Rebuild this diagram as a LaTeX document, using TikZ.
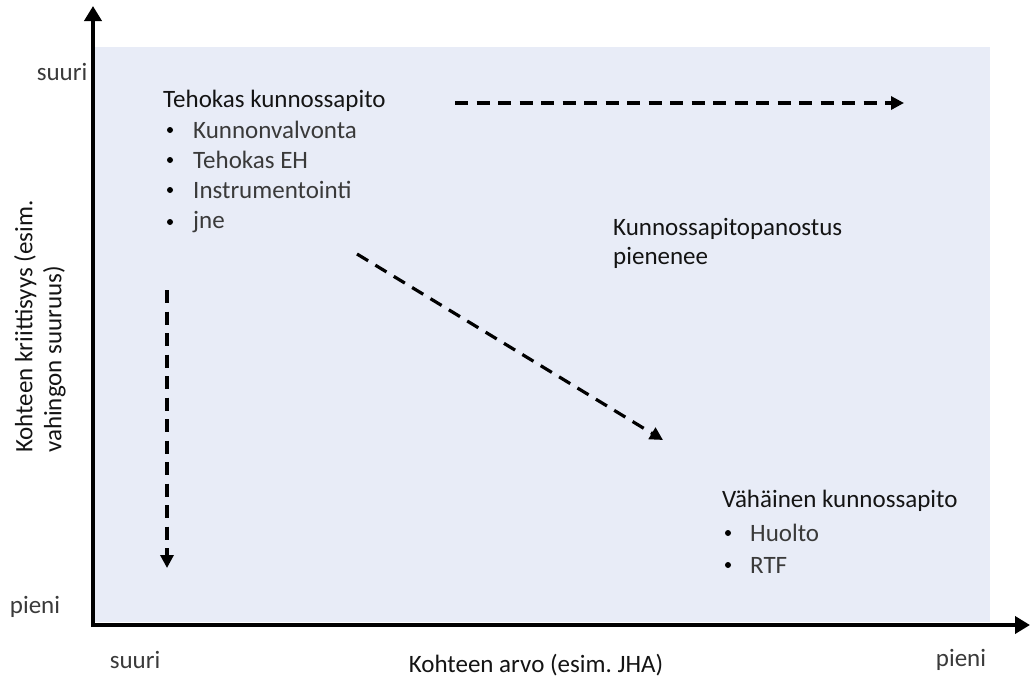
\documentclass[tikz,border=0pt]{standalone}
\usepackage{fontspec}
\setmainfont{Carlito}
\usetikzlibrary{arrows.meta}
\definecolor{panel}{HTML}{E8ECF7}
\definecolor{itemgrey}{HTML}{3A3A3A}
\definecolor{headblack}{HTML}{141414}
\tikzset{
  axis/.style={line width=4.5pt, -{Triangle[length=15pt,width=17pt]}},
  trend/.style={line width=3.2pt, dash pattern=on 13pt off 8.5pt, -{Triangle[length=13pt,width=13pt]}},
  lbl/.style={font=\fontsize{25}{29}\selectfont, text=itemgrey, inner sep=0pt},
  head/.style={font=\fontsize{25}{29}\selectfont, text=headblack, inner sep=0pt, anchor=west},
  item/.style={font=\fontsize{25}{29}\selectfont, text=itemgrey, inner sep=0pt, anchor=west},
  dot/.style={circle, fill=black, inner sep=0pt, minimum size=6pt},
}
\begin{document}
\frenchspacing
\begin{tikzpicture}[x=1pt, y=-1pt]
  \useasboundingbox (0,0) rectangle (1030,680);
  % shaded plot area
  \fill[panel] (94,47) rectangle (990,622);

  % axes
  \coordinate (ytop) at (93,6);
  \coordinate (xend) at (1030,625);
  \draw[axis] (93,627) -- (ytop);
  \draw[axis] (91,625) -- (xend);

  % axis end labels
  \node[lbl] (ybig) at (62,72) {suuri};
  \node[lbl] (ysmall) at (35,607) {pieni};
  \node[lbl] (xbig) at (135,660) {suuri};
  \node[lbl] (xsmall) at (961,660) {pieni};

  % axis titles
  \node[lbl, text=headblack, rotate=90, align=left, anchor=west] (ytitle) at (40,453)
    {Kohteen kriittisyys (esim.\\vahingon suuruus)};
  \node[lbl, text=headblack] (xtitle) at (536,665) {Kohteen arvo (esim. JHA)};

  % upper-left group
  \node[head] (t1) at (163,101) {Tehokas kunnossapito};
  \foreach \y/\txt/\nm in {130/Kunnonvalvonta/a1, 160/Tehokas EH/a2, 190/Instrumentointi/a3, 222/jne/a4} {
    \node[dot] (\nm b) at (170,\y) {};
    \node[item] (\nm) at (193,\y) {\txt};
  }

  % middle label
  \node[head, align=left] (mid) at (613,243) {Kunnossapitopanostus\\pienenee};

  % lower-right group
  \node[head] (t2) at (722,501) {Vähäinen kunnossapito};
  \foreach \y/\txt/\nm in {533/Huolto/b1, 565/RTF/b2} {
    \node[dot] (\nm b) at (728,\y) {};
    \node[item] (\nm) at (750,\y) {\txt};
  }

  % trend arrows
  \coordinate (h0) at (455,103);
  \coordinate (h1) at (904,103);
  \coordinate (d0) at (357,254);
  \coordinate (d1) at (663,440);
  \coordinate (v0) at (167,290);
  \coordinate (v1) at (167,568);
  \draw[trend] (h0) -- (h1);
  \draw[trend] (d0) -- (d1);
  \draw[trend] (v0) -- (v1);
\end{tikzpicture}
\end{document}
